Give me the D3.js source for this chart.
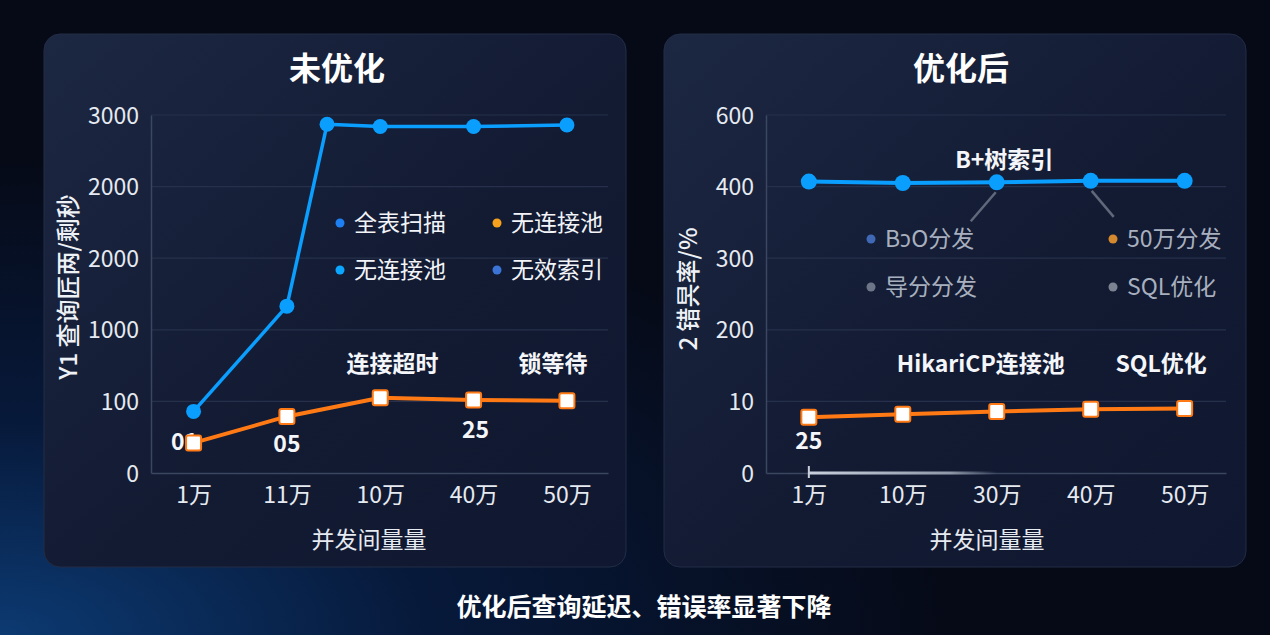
<!DOCTYPE html>
<html><head><meta charset="utf-8">
<script src="https://cdn.jsdelivr.net/npm/d3@7"></script>
<style>html,body{margin:0;padding:0;background:#070b18;}svg{display:block;}</style>
</head><body>
<svg id="c" width="1270" height="635"></svg>
<script>
// ---------- data ----------
const leftCategories = ["1万","11万","10万","40万","50万"];
const rightCategories = ["1万","10万","30万","40万","50万"];
const leftTickLabels = ["0","100","1000","2000","2000","3000"];
const rightTickLabels = ["0","10","200","300","400","600"];
// values expressed on the (evenly spaced) tick grid: 0 = first tick, 5 = last tick
const leftBlueX = [0,1,1.43,2,3,4];
const leftBlueY = [0.86,2.33,4.87,4.84,4.84,4.86];
const leftOrangeY = [0.42,0.79,1.05,1.02,1.01];
const rightBlueY = [4.07,4.05,4.06,4.08,4.08];
const rightOrangeY = [0.78,0.82,0.86,0.89,0.90];
const leftLegend = [["全表扫描","#1e7ff2"],["无连接池","#f6a01c"],["无连接池","#0aa6ff"],["无效索引","#3b74d6"]];
const rightLegend = [["BɔO分发","#3f69b4"],["50万分发","#d5892e"],["导分分发","#6c7688"],["SQL优化","#7b8393"]];
const leftLabels = [["01",0,0.42,-9,-1],["05",1,0.79,0,28],["25",3,1.02,2,30]];
const leftNotes = [["连接超时",2.13,1.52],["锁等待",3.85,1.52]];
const rightNotes = [["B+树索引",2.08,4.37],["HikariCP连接池",1.83,1.52],["SQL优化",3.75,1.52]];

const FONT = "'Noto Sans CJK SC','Noto Sans',sans-serif";
const svg = d3.select("#c");
const defs = svg.append("defs");

// background
const bg = defs.append("radialGradient").attr("id","bgGlow").attr("cx","0").attr("cy","1").attr("r","0.75");
bg.append("stop").attr("offset","0").attr("stop-color","#0c3a72");
bg.append("stop").attr("offset","0.45").attr("stop-color","#07193a");
bg.append("stop").attr("offset","1").attr("stop-color","#060a17");
svg.append("rect").attr("width",1270).attr("height",635).attr("fill","url(#bgGlow)");

const pg = defs.append("linearGradient").attr("id","panelG").attr("x1","0").attr("y1","0").attr("x2","1").attr("y2","1");
pg.append("stop").attr("offset","0").attr("stop-color","#1c2742");
pg.append("stop").attr("offset","0.55").attr("stop-color","#131b33");
pg.append("stop").attr("offset","1").attr("stop-color","#0f1830");

const barG = defs.append("linearGradient").attr("id","barG");
barG.append("stop").attr("offset","0").attr("stop-color","#c8d0dc");
barG.append("stop").attr("offset","0.75").attr("stop-color","#8f99a9");
barG.append("stop").attr("offset","1").attr("stop-color","#8f99a9").attr("stop-opacity","0");

function panel(opt){
  const g = svg.append("g");
  g.append("rect").attr("x",opt.px).attr("y",34).attr("width",582).attr("height",533).attr("rx",16)
    .attr("fill","url(#panelG)").attr("stroke","#222c45").attr("stroke-width",1);
  g.append("text").attr("x",opt.titleX).attr("y",80).attr("text-anchor","middle")
    .attr("font-family",FONT).attr("font-weight",700).attr("font-size",32).attr("fill","#ffffff").text(opt.title);

  const x = d3.scaleLinear().domain([-0.456,4.44]).range([opt.x0,opt.x1]);
  const y = d3.scaleLinear().domain([0,5]).range([473,115]);

  // grid
  g.append("g").selectAll("line").data(d3.range(1,6)).join("line")
    .attr("x1",opt.x0).attr("x2",opt.x1).attr("y1",d=>y(d)).attr("y2",d=>y(d))
    .attr("stroke","#26304a").attr("stroke-width",1.2);
  // y axis
  const ya = d3.axisLeft(y).tickValues(d3.range(0,6)).tickFormat(i=>opt.yLabels[i]).tickSize(0).tickPadding(12);
  const yg = g.append("g").attr("transform",`translate(${opt.x0},0)`).call(ya);
  yg.select(".domain").attr("stroke","#3b465f").attr("stroke-width",1.5);
  yg.selectAll("text").attr("font-family",FONT).attr("font-size",23).attr("fill","#e6eaf1").attr("dy","0.35em");
  // x axis
  const xa = d3.axisBottom(x).tickValues(d3.range(0,5)).tickFormat(i=>opt.cats[i]).tickSize(0).tickPadding(14);
  const xg = g.append("g").attr("transform","translate(0,473)").call(xa);
  xg.select(".domain").attr("stroke","#3b465f").attr("stroke-width",1.5);
  xg.selectAll("text").attr("font-family",FONT).attr("font-size",23).attr("fill","#e6eaf1");

  g.append("text").attr("x",opt.xTitleX).attr("y",548).attr("text-anchor","middle")
    .attr("font-family",FONT).attr("font-size",23).attr("fill","#e6eaf1").text("并发间量量");
  g.append("text").attr("transform",`translate(${opt.yTitleX},${opt.yTitleY}) rotate(-90)`).attr("text-anchor","middle")
    .attr("dy","0.35em").attr("font-family",FONT).attr("font-weight",500).attr("font-size",24).attr("fill","#eef2f7").text(opt.yTitle);
  return {g,x,y};
}

// ---------------- LEFT ----------------
const L = panel({px:44,title:"未优化",titleX:337,x0:151,x1:608,cats:leftCategories,yLabels:leftTickLabels,
  xTitleX:369,yTitleX:69,yTitleY:287,yTitle:"Y1 查询匠两/剩秒"});

// legend
const legL = L.g.append("g");
leftLegend.forEach((d,i)=>{
  const cx = i%2===0 ? 340 : 497, cy = i<2 ? 223 : 270;
  legL.append("circle").attr("cx",cx).attr("cy",cy).attr("r",4.5).attr("fill",d[1]);
  legL.append("text").attr("x",cx+14).attr("y",cy).attr("dy","0.36em").attr("font-family",FONT)
    .attr("font-size",23).attr("fill","#f2f4f8").text(d[0]);
});

// blue line
const lineB = d3.line().x((d,i)=>L.x(leftBlueX[i])).y(d=>L.y(d));
L.g.append("path").datum(leftBlueY).attr("d",lineB).attr("fill","none").attr("stroke","#0a9eff").attr("stroke-width",3.5).attr("stroke-linejoin","round");
L.g.append("g").selectAll("circle").data(leftBlueY).join("circle")
  .attr("cx",(d,i)=>L.x(leftBlueX[i])).attr("cy",d=>L.y(d)).attr("r",7.5).attr("fill","#0a9eff");

// labels under orange
leftLabels.forEach(d=>{
  L.g.append("text").attr("x",L.x(d[1])+d[3]).attr("y",L.y(d[2])+d[4]).attr("text-anchor","middle").attr("dy","0.35em")
    .attr("font-family",FONT).attr("font-weight",700).attr("font-size",23).attr("fill","#f4f6fa").text(d[0]);
});
// orange
const lineO = d3.line().x((d,i)=>L.x(i)).y(d=>L.y(d));
L.g.append("path").datum(leftOrangeY).attr("d",lineO).attr("fill","none").attr("stroke","#ff7a14").attr("stroke-width",4).attr("stroke-linejoin","round");
L.g.append("g").selectAll("rect").data(leftOrangeY).join("rect")
  .attr("x",(d,i)=>L.x(i)-7.5).attr("y",d=>L.y(d)-7.5).attr("width",15).attr("height",15).attr("rx",2)
  .attr("fill","#ffffff").attr("stroke","#ff7a14").attr("stroke-width",2);
leftNotes.forEach(d=>{
  L.g.append("text").attr("x",L.x(d[1])).attr("y",L.y(d[2])).attr("text-anchor","middle").attr("dy","0.35em")
    .attr("font-family",FONT).attr("font-weight",700).attr("font-size",23).attr("fill","#f4f6fa").text(d[0]);
});

// ---------------- RIGHT ----------------
const R = panel({px:664,title:"优化后",titleX:961,x0:766,x1:1226,cats:rightCategories,yLabels:rightTickLabels,
  xTitleX:987,yTitleX:689,yTitleY:289,yTitle:"2 错昗率/%"});

// highlight bar on x axis
R.g.append("rect").attr("x",R.x(0)).attr("y",471.5).attr("width",R.x(2)-R.x(0)).attr("height",3).attr("fill","url(#barG)");
R.g.append("line").attr("x1",R.x(0)).attr("x2",R.x(0)).attr("y1",466).attr("y2",478).attr("stroke","#c8d0dc").attr("stroke-width",2);

// connectors
[[2,-1,-25,29],[3,1,22,26]].forEach(c=>{
  const x0 = R.x(c[0])+c[1]*1, y0 = R.y(rightBlueY[c[0]])+10;
  R.g.append("line").attr("x1",x0).attr("y1",y0).attr("x2",x0+c[2]).attr("y2",y0+c[3])
    .attr("stroke","#5f697b").attr("stroke-width",2.5);
});

// legend
rightLegend.forEach((d,i)=>{
  const cx = i%2===0 ? 871 : 1113, cy = i<2 ? 239 : 287;
  R.g.append("circle").attr("cx",cx).attr("cy",cy).attr("r",4.5).attr("fill",d[1]);
  R.g.append("text").attr("x",cx+14).attr("y",cy).attr("dy","0.36em").attr("font-family",FONT)
    .attr("font-size",23).attr("fill","#a8b0bf").text(d[0]);
});

const lineRB = d3.line().x((d,i)=>R.x(i)).y(d=>R.y(d));
R.g.append("path").datum(rightBlueY).attr("d",lineRB).attr("fill","none").attr("stroke","#0a9eff").attr("stroke-width",4);
R.g.append("g").selectAll("circle").data(rightBlueY).join("circle")
  .attr("cx",(d,i)=>R.x(i)).attr("cy",d=>R.y(d)).attr("r",8).attr("fill","#0a9eff");

R.g.append("path").datum(rightOrangeY).attr("d",lineRB).attr("fill","none").attr("stroke","#ff7a14").attr("stroke-width",4);
R.g.append("g").selectAll("rect").data(rightOrangeY).join("rect")
  .attr("x",(d,i)=>R.x(i)-7.5).attr("y",d=>R.y(d)-7.5).attr("width",15).attr("height",15).attr("rx",2)
  .attr("fill","#ffffff").attr("stroke","#ff7a14").attr("stroke-width",2);
R.g.append("text").attr("x",R.x(0)).attr("y",R.y(rightOrangeY[0])+24).attr("text-anchor","middle").attr("dy","0.35em")
  .attr("font-family",FONT).attr("font-weight",700).attr("font-size",23).attr("fill","#f4f6fa").text("25");
rightNotes.forEach(d=>{
  R.g.append("text").attr("x",R.x(d[1])).attr("y",R.y(d[2])).attr("text-anchor","middle").attr("dy","0.35em")
    .attr("font-family",FONT).attr("font-weight",700).attr("font-size",23).attr("fill","#f4f6fa").text(d[0]);
});

// caption
svg.append("text").attr("x",644).attr("y",607).attr("text-anchor","middle").attr("dy","0.35em")
  .attr("font-family",FONT).attr("font-weight",700).attr("font-size",25).attr("fill","#ffffff")
  .text("优化后查询延迟、错误率显著下降");
</script>
</body></html>
